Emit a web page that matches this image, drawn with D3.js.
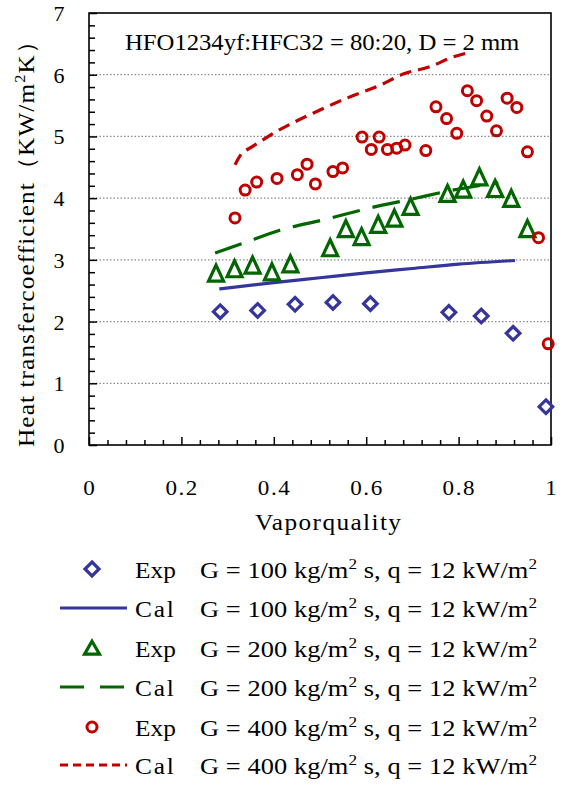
<!DOCTYPE html>
<html><head><meta charset="utf-8">
<script src="https://cdn.jsdelivr.net/npm/d3@7"></script>
<style>
html,body{margin:0;padding:0;background:#fff;}
svg text{font-family:"Liberation Serif","Times New Roman",serif;fill:#000;}
</style></head>
<body>
<svg id="chart" width="563" height="785"></svg>
<script>
// Vapor quality / heat transfer coefficient data (kW/m²K)
const exp100X = [0.284, 0.365, 0.446, 0.528, 0.609, 0.779, 0.849, 0.918, 0.989];
const exp100Y = [2.16, 2.18, 2.28, 2.31, 2.29, 2.15, 2.09, 1.81, 0.62];
const cal100X = [0.282, 0.40, 0.50, 0.60, 0.70, 0.80, 0.922];
const cal100Y = [2.53, 2.63, 2.71, 2.79, 2.86, 2.93, 2.99];

const exp200X = [0.275, 0.315, 0.354, 0.396, 0.436, 0.522, 0.556, 0.590, 0.626, 0.661, 0.696, 0.776, 0.810, 0.845, 0.879, 0.914, 0.949];
const exp200Y = [2.76, 2.83, 2.89, 2.78, 2.91, 3.17, 3.48, 3.35, 3.55, 3.65, 3.84, 4.05, 4.12, 4.32, 4.13, 3.97, 3.48];
const cal200X = [0.273, 0.334, 0.413, 0.514, 0.608, 0.702, 0.774, 0.886];
const cal200Y = [3.11, 3.27, 3.48, 3.66, 3.84, 3.99, 4.11, 4.25];

const exp400X = [0.316, 0.338, 0.363, 0.407, 0.451, 0.472, 0.490, 0.528, 0.549, 0.591, 0.611, 0.628, 0.646, 0.666, 0.684, 0.729, 0.751, 0.774, 0.796, 0.819, 0.839, 0.861, 0.882, 0.905, 0.926, 0.949, 0.973, 0.994];
const exp400Y = [3.68, 4.13, 4.26, 4.32, 4.38, 4.55, 4.23, 4.43, 4.49, 4.99, 4.79, 4.99, 4.79, 4.81, 4.86, 4.77, 5.48, 5.29, 5.05, 5.74, 5.58, 5.33, 5.09, 5.62, 5.47, 4.75, 3.36, 1.64];
const cal400X = [0.316, 0.334, 0.341, 0.413, 0.486, 0.558, 0.630, 0.680, 0.738, 0.789, 0.828];
const cal400Y = [4.54, 4.75, 4.78, 5.11, 5.38, 5.62, 5.83, 6.01, 6.13, 6.29, 6.37];

const xTicks = [0, 0.2, 0.4, 0.6, 0.8, 1];
const xTickLabels = ["0", "0.2", "0.4", "0.6", "0.8", "1"];
const yTicks = [0, 1, 2, 3, 4, 5, 6, 7];
const legendLabels = [
  "G = 100 kg/m² s, q = 12 kW/m²",
  "G = 200 kg/m² s, q = 12 kW/m²",
  "G = 400 kg/m² s, q = 12 kW/m²"
];
const legendKinds = ["Exp", "Cal", "Exp", "Cal", "Exp", "Cal"];

const blue = "#35359b", green = "#006600", red = "#c00000";

const svg = d3.select("#chart");
const L = 89, R = 551, T = 13, B = 445;
const x = d3.scaleLinear().domain([0, 1]).range([L, R]);
const y = d3.scaleLinear().domain([0, 7]).range([B, T]);

// Writes text (with "²" shown as a raised small 2), widens the glyphs a little
// and opens the letter spacing until it spans the given width.
function wideText(parent, str, px, py, size, width, anchor, rotate) {
  const sx = 1.1;
  const g = parent.append("g")
    .attr("transform", `translate(${px},${py})` + (rotate ? ` rotate(${rotate})` : "") + ` scale(${sx},1)`);
  const t = g.append("text").attr("font-size", size).attr("text-anchor", anchor || "start");
  const parts = str.split("²");
  parts.forEach((p, i) => {
    if (i > 0) {
      t.append("tspan").attr("dy", -size * 0.38).attr("font-size", size * 0.65).text("2");
      t.append("tspan").attr("dy", size * 0.38).text(p);
    } else {
      t.append("tspan").text(p);
    }
  });
  if (width) {
    const w = t.node().getBBox().width;
    const n = str.length;
    const ls = (width / sx - w) / Math.max(1, n - 1);
    t.attr("letter-spacing", ls);
    if (anchor === "middle") t.attr("dx", ls / 2);
  }
  return t;
}

// dotted grid lines
svg.append("g").selectAll("line").data(yTicks.slice(1, -1)).join("line")
  .attr("x1", L).attr("x2", R).attr("y1", d => y(d)).attr("y2", d => y(d))
  .attr("stroke", "#8a8a8a").attr("stroke-width", 1.2).attr("stroke-dasharray", "1.5,2");

// frame
svg.append("rect").attr("x", L).attr("y", T).attr("width", R - L).attr("height", B - T)
  .attr("fill", "none").attr("stroke", "#000").attr("stroke-width", 1.6);

// y axis: ticks inside, minor every 0.2
const yAxis = d3.axisRight(y).tickValues(d3.range(0, 7.0001, 0.2)).tickSizeOuter(0)
  .tickSize(6).tickFormat("");
const gy = svg.append("g").attr("transform", `translate(${L},0)`).call(yAxis);
gy.select(".domain").remove();
gy.selectAll(".tick line").attr("stroke-width", 1.5)
  .attr("x2", d => Math.abs(d - Math.round(d)) < 1e-6 ? 8 : 6);

// x axis: ticks inside, minor every 0.04
const xAxis = d3.axisTop(x).tickValues(d3.range(0, 1.0001, 0.04)).tickSizeOuter(0)
  .tickSize(6).tickFormat("");
const gx = svg.append("g").attr("transform", `translate(0,${B})`).call(xAxis);
gx.select(".domain").remove();
gx.selectAll(".tick line").attr("stroke-width", 1.5)
  .attr("y2", (d, i) => i % 5 === 0 ? -8 : -5);

// tick labels
svg.append("g").selectAll("text").data(yTicks).join("text")
  .attr("x", 59).attr("y", d => y(d) + 8).attr("text-anchor", "middle")
  .attr("font-size", 22).text(d => d);
const gxl = svg.append("g");
xTicks.forEach((d, i) => {
  wideText(gxl, xTickLabels[i], x(d), 495, 21, xTickLabels[i].length > 1 ? 32 : 0, "middle");
});

// axis titles
wideText(svg, "Vaporquality", 255, 530, 23, 146, "start");
wideText(svg, "Heat transfercoefficient（KW/m²K）", 34, 238, 23, 418, "middle", -90);

// annotation
wideText(svg, "HFO1234yf:HFC32 = 80:20, D = 2 mm", 125, 50, 22.5, 395, "start");

const line = d3.line().x(d => x(d[0])).y(d => y(d[1])).curve(d3.curveMonotoneX);
const zip = (a, b) => a.map((v, i) => [v, b[i]]);

svg.append("path").datum(zip(cal100X, cal100Y)).attr("d", line)
  .attr("fill", "none").attr("stroke", blue).attr("stroke-width", 3.2);
svg.append("path").datum(zip(cal200X, cal200Y)).attr("d", line)
  .attr("fill", "none").attr("stroke", green).attr("stroke-width", 3.2)
  .attr("stroke-dasharray", "28,13");
svg.append("path").datum(zip(cal400X, cal400Y)).attr("d", line)
  .attr("fill", "none").attr("stroke", red).attr("stroke-width", 3.2)
  .attr("stroke-dasharray", "12,7");

// markers
const diamond = (g, cx, cy, s) => g.append("path")
  .attr("d", `M${cx},${cy - s}L${cx + s},${cy}L${cx},${cy + s}L${cx - s},${cy}Z`)
  .attr("fill", "none").attr("stroke", blue).attr("stroke-width", 3.2);
const triangle = (g, cx, cy, w, h) => g.append("path")
  .attr("d", `M${cx},${cy - h * 0.6}L${cx + w},${cy + h * 0.4}L${cx - w},${cy + h * 0.4}Z`)
  .attr("fill", "none").attr("stroke", green).attr("stroke-width", 3.2)
  .attr("stroke-linejoin", "miter");
const circle = (g, cx, cy, r) => g.append("circle").attr("cx", cx).attr("cy", cy).attr("r", r)
  .attr("fill", "none").attr("stroke", red).attr("stroke-width", 3);

const gm = svg.append("g");
exp200X.forEach((v, i) => triangle(gm, x(v), y(exp200Y[i]), 7.5, 16));
exp100X.forEach((v, i) => diamond(gm, x(v), y(exp100Y[i]), 6.8));
exp400X.forEach((v, i) => circle(gm, x(v), y(exp400Y[i]), 5));

// legend
const rows = [569, 608, 648, 687, 727, 765];
const lg = svg.append("g");
const lx0 = 60, lx1 = 127, mx = 92;
diamond(lg, mx, rows[0], 7);
lg.append("line").attr("x1", lx0).attr("x2", lx1).attr("y1", rows[1]).attr("y2", rows[1])
  .attr("stroke", blue).attr("stroke-width", 3.2);
triangle(lg, mx, rows[2] + 1, 7.5, 13);
lg.append("line").attr("x1", lx0).attr("x2", lx1).attr("y1", rows[3]).attr("y2", rows[3])
  .attr("stroke", green).attr("stroke-width", 3.2).attr("stroke-dasharray", "24,16");
circle(lg, mx, rows[4], 5);
lg.append("line").attr("x1", lx0).attr("x2", lx1).attr("y1", rows[5]).attr("y2", rows[5])
  .attr("stroke", red).attr("stroke-width", 3.2).attr("stroke-dasharray", "8,5");

rows.forEach((ry, i) => {
  wideText(lg, legendKinds[i], 135, ry + 9, 23, legendKinds[i] === "Exp" ? 41 : 39, "start");
  wideText(lg, legendLabels[Math.floor(i / 2)], 200, ry + 9, 24, 337, "start");
});
</script>
</body></html>
